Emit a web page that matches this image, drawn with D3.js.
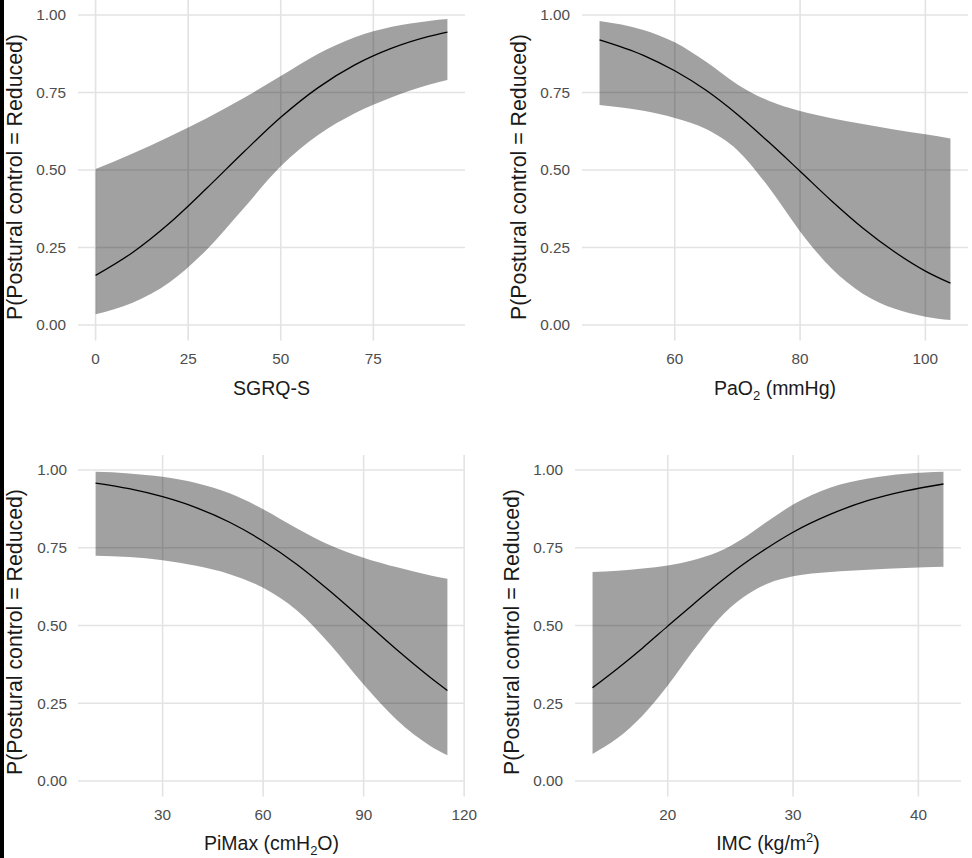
<!DOCTYPE html>
<html>
<head>
<meta charset="utf-8">
<script src="https://cdn.jsdelivr.net/npm/d3@7"></script>
<style>
  body { margin: 0; background: #fff; }
  svg { display: block; font-family: "Liberation Sans", Arial, sans-serif; }
</style>
</head>
<body>
<svg id="chart" width="972" height="858"></svg>
<script>
// values
const yTicks = [0, 0.25, 0.5, 0.75, 1];

const sgrqX    = [0, 10, 20, 30, 40, 50, 60, 70, 80, 90, 95];
const sgrqFit  = [0.160, 0.234, 0.329, 0.441, 0.558, 0.670, 0.765, 0.839, 0.893, 0.931, 0.945];
const sgrqLow  = [0.035, 0.072, 0.138, 0.243, 0.377, 0.512, 0.612, 0.683, 0.735, 0.775, 0.790];
const sgrqHigh = [0.503, 0.553, 0.608, 0.667, 0.732, 0.803, 0.874, 0.928, 0.962, 0.981, 0.987];
const sgrqTicks = [0, 25, 50, 75];

const pao2X    = [48, 55, 60, 65, 70, 75, 80, 85, 90, 95, 100, 104];
const pao2Fit  = [0.920, 0.870, 0.820, 0.757, 0.679, 0.590, 0.496, 0.401, 0.313, 0.237, 0.174, 0.135];
const pao2Low  = [0.710, 0.691, 0.668, 0.632, 0.564, 0.444, 0.302, 0.183, 0.101, 0.053, 0.027, 0.016];
const pao2High = [0.981, 0.952, 0.912, 0.849, 0.776, 0.723, 0.690, 0.667, 0.648, 0.631, 0.615, 0.602];
const pao2Ticks = [60, 80, 100];

const pimaxX    = [10, 20, 30, 40, 50, 60, 70, 80, 90, 100, 110, 115];
const pimaxFit  = [0.958, 0.940, 0.914, 0.879, 0.832, 0.771, 0.697, 0.610, 0.516, 0.421, 0.332, 0.291];
const pimaxLow  = [0.724, 0.720, 0.710, 0.692, 0.665, 0.621, 0.549, 0.439, 0.310, 0.195, 0.112, 0.083];
const pimaxHigh = [0.994, 0.989, 0.978, 0.958, 0.925, 0.874, 0.813, 0.758, 0.718, 0.687, 0.661, 0.650];
const pimaxTicks = [30, 60, 90, 120];

const imcX    = [14, 16, 18, 20, 22, 24, 26, 28, 30, 33, 36, 39, 42];
const imcFit  = [0.300, 0.362, 0.428, 0.498, 0.567, 0.634, 0.696, 0.751, 0.800, 0.858, 0.902, 0.933, 0.955];
const imcLow  = [0.087, 0.138, 0.211, 0.307, 0.417, 0.518, 0.590, 0.635, 0.658, 0.672, 0.679, 0.685, 0.689];
const imcHigh = [0.672, 0.676, 0.683, 0.693, 0.710, 0.736, 0.780, 0.836, 0.889, 0.944, 0.973, 0.988, 0.994];
const imcTicks = [20, 30, 40];

const yTitle = "P(Postural control = Reduced)";

const svg = d3.select("#chart");

// black strip on the left edge of the picture
svg.append("rect").attr("x", 0).attr("y", 0).attr("width", 4).attr("height", 858).attr("fill", "#000");

const panels = [
  {xs: sgrqX, fit: sgrqFit, lo: sgrqLow, hi: sgrqHigh, ticks: sgrqTicks,
   dom: [-4.75, 99.75], left: 78, right: 465, top: 0, y1: 15, y0: 325,
   tickY: 364, titleY: 395, yLabX: 66, yTitleX: 15, title: ["SGRQ-S"]},
  {xs: pao2X, fit: pao2Fit, lo: pao2Low, hi: pao2High, ticks: pao2Ticks,
   dom: [45.2, 106.8], left: 582, right: 968, top: 0, y1: 15, y0: 325,
   tickY: 364, titleY: 395, yLabX: 570, yTitleX: 519, title: ["PaO", "2", " (mmHg)"]},
  {xs: pimaxX, fit: pimaxFit, lo: pimaxLow, hi: pimaxHigh, ticks: pimaxTicks,
   dom: [4.75, 120.25], left: 78, right: 465, top: 455, y1: 470, y0: 781,
   tickY: 820, titleY: 850, yLabX: 67, yTitleX: 15, title: ["PiMax (cmH", "2", "O)"]},
  {xs: imcX, fit: imcFit, lo: imcLow, hi: imcHigh, ticks: imcTicks,
   dom: [12.6, 43.4], left: 575, right: 961, top: 455, y1: 470, y0: 781,
   tickY: 820, titleY: 850, yLabX: 563, yTitleX: 512, title: ["IMC (kg/m", "2", ")"], sup: true}
];

panels.forEach(function(p) {
  const x = d3.scaleLinear().domain(p.dom).range([p.left, p.right]);
  const y = d3.scaleLinear().domain([0, 1]).range([p.y0, p.y1]);
  const bottom = y(-0.05);
  const g = svg.append("g");

  // grid
  g.selectAll("line.h").data(yTicks).join("line")
    .attr("x1", p.left).attr("x2", p.right)
    .attr("y1", d => y(d)).attr("y2", d => y(d))
    .attr("stroke", "#e3e3e3").attr("stroke-width", 1.6);
  g.selectAll("line.v").data(p.ticks).join("line")
    .attr("x1", d => x(d)).attr("x2", d => x(d))
    .attr("y1", p.top).attr("y2", bottom)
    .attr("stroke", "#e3e3e3").attr("stroke-width", 1.6);

  const rows = p.xs.map((v, i) => ({v: v, fit: p.fit[i], lo: p.lo[i], hi: p.hi[i]}));

  const area = d3.area()
    .x(d => x(d.v)).y0(d => y(d.lo)).y1(d => y(d.hi))
    .curve(d3.curveMonotoneX);
  g.append("path").datum(rows).attr("d", area)
    .attr("fill", "#000").attr("fill-opacity", 0.37);

  const line = d3.line().x(d => x(d.v)).y(d => y(d.fit)).curve(d3.curveMonotoneX);
  g.append("path").datum(rows).attr("d", line)
    .attr("fill", "none").attr("stroke", "#000").attr("stroke-width", 1.3);

  // tick labels
  g.selectAll("text.yl").data(yTicks).join("text")
    .attr("x", p.yLabX).attr("y", d => y(d)).attr("dy", "0.35em")
    .attr("text-anchor", "end").attr("font-size", 15.3).attr("fill", "#4d4d4d")
    .text(d => d3.format(".2f")(d));
  g.selectAll("text.xl").data(p.ticks).join("text")
    .attr("x", d => x(d)).attr("y", p.tickY)
    .attr("text-anchor", "middle").attr("font-size", 15.3).attr("fill", "#4d4d4d")
    .text(d => d);

  // axis titles
  const t = g.append("text")
    .attr("x", (p.left + p.right) / 2).attr("y", p.titleY)
    .attr("text-anchor", "middle").attr("font-size", 19.5).attr("fill", "#1a1a1a");
  t.append("tspan").text(p.title[0]);
  if (p.title.length > 1) {
    t.append("tspan").attr("font-size", 13).attr("dy", p.sup ? -8 : 5).text(p.title[1]);
    t.append("tspan").attr("dy", p.sup ? 8 : -5).text(p.title[2]);
  }

  g.append("text")
    .attr("transform", "translate(" + p.yTitleX + "," + (p.top + 177) + ") rotate(-90)")
    .attr("dy", "0.35em").attr("text-anchor", "middle")
    .attr("font-size", 21.3).attr("fill", "#1a1a1a")
    .text(yTitle);
});
</script>
</body>
</html>
